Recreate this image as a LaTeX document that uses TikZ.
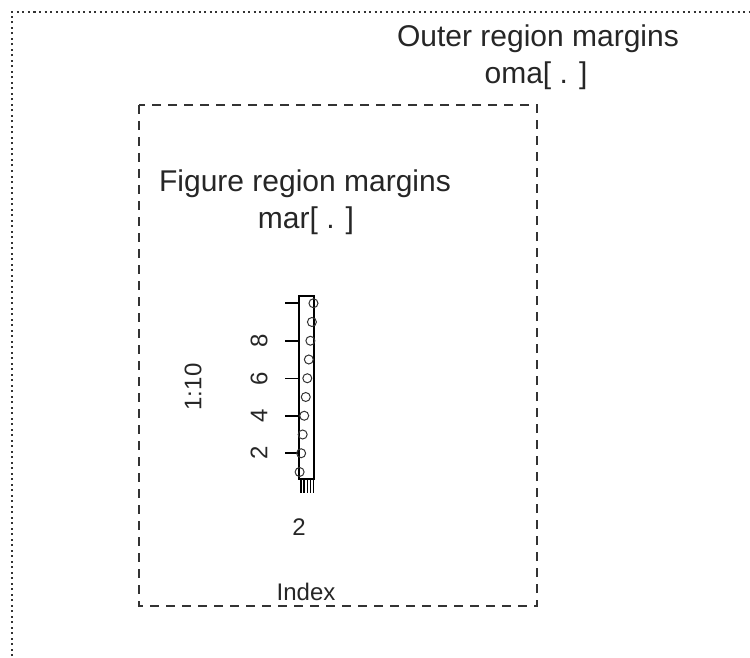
\documentclass[tikz,border=0pt]{standalone}
\usepackage{fontspec}
\setmainfont{Liberation Sans}
\begin{document}
\begin{tikzpicture}[x=1pt,y=-1pt,
  bigtxt/.style={font=\fontsize{30}{36}\selectfont, text=black!85, inner sep=0pt, anchor=base},
  axtxt/.style={font=\fontsize{24}{28}\selectfont, text=black!85, inner sep=0pt},
  figbox/.style={draw=black!80, line width=2.4pt, dash pattern=on 9pt off 7pt},
  outerline/.style={draw=black!80, line width=2.2pt, dash pattern=on 2pt off 3.5pt},
  axline/.style={draw=black, line width=1.6pt},
  pt/.style={draw=black!80, line width=1pt}]
\useasboundingbox (0,0) rectangle (750,658);
% outer region (extends beyond the picture)
\begin{scope}
\clip (0,0) rectangle (750,658);
\draw[outerline] (12,700) -- (12,12) -- (760,12);
\end{scope}
% outer region labels
\node[bigtxt] (oT1) at (538,47) {Outer region margins};
\node[bigtxt] (oT2) at (536,84) {oma[ . ]};
% figure region
\draw[figbox] (139,105) rectangle (537,606);
\node[bigtxt] (fT1) at (305,192) {Figure region margins};
\node[bigtxt] (fT2) at (306,229) {mar[ . ]};
% plot box
\draw[axline] (299,296) rectangle (314,479);
% y axis
\draw[axline] (299,453) -- (299,303);
\foreach \v/\yy in {2/453,4/416,6/378.5,8/341,10/303} {
  \draw[axline] (299,\yy) -- (285,\yy);
}
\foreach \v/\yy in {2/453,4/416,6/378.5,8/341} {
  \node[axtxt, rotate=90] (yl\v) at (259,\yy) {\v};
}
% x axis
\draw[axline] (301.1,479) -- (313.4,479);
\foreach \xx in {301.1,304.2,307.3,310.4,313.4} {
  \draw[axline] (\xx,479) -- (\xx,493);
}
\node[axtxt] (xl2) at (299,527) {2};
% points
\foreach \i in {1,...,10} {
  \draw[pt] ({299.6+(\i-1)*1.54},{472-(\i-1)*18.75}) circle (4.5pt);
}
% axis titles
\node[axtxt, rotate=90] (ylab) at (193,387) {1:10};
\node[axtxt] (xlab) at (306,592) {Index};
\end{tikzpicture}
\end{document}
